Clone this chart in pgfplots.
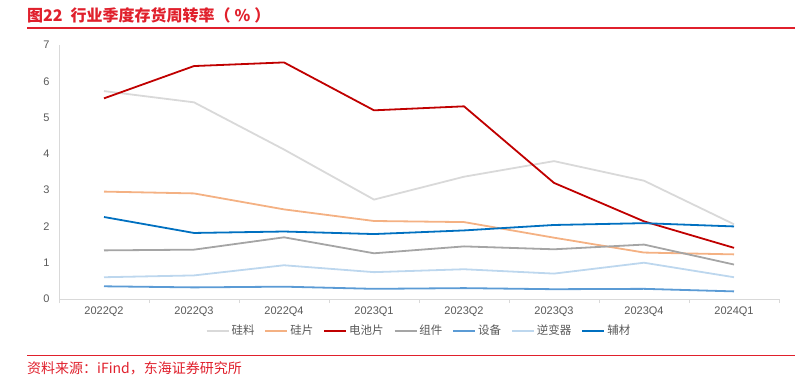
\documentclass[border=0pt]{standalone}
\usepackage{pgfplots}
\pgfplotsset{compat=1.18}
\usepackage{fontspec}
\setmainfont{Liberation Sans}
\newfontfamily\cjk{Noto Sans CJK SC}
\definecolor{titlered}{RGB}{224,32,44}
\definecolor{tickgray}{RGB}{89,89,89}
\definecolor{axgray}{RGB}{217,217,217}
\definecolor{cgl}{RGB}{217,217,217}
\definecolor{cgp}{RGB}{244,177,131}
\definecolor{cdc}{RGB}{192,0,0}
\definecolor{czj}{RGB}{165,165,165}
\definecolor{csb}{RGB}{91,155,213}
\definecolor{cnb}{RGB}{189,215,238}
\definecolor{cfc}{RGB}{0,112,192}
\pgfplotstableread{
x gl gp dc zj sb nb fc
0 5.73 2.96 5.53 1.34 0.35 0.60 2.26
1 5.42 2.91 6.42 1.36 0.32 0.65 1.82
2 4.12 2.47 6.52 1.70 0.34 0.93 1.86
3 2.74 2.15 5.20 1.26 0.28 0.74 1.79
4 3.37 2.12 5.31 1.45 0.30 0.82 1.89
5 3.80 1.69 3.20 1.37 0.27 0.70 2.04
6 3.26 1.28 2.14 1.50 0.28 1.00 2.09
7 2.06 1.23 1.41 0.95 0.21 0.60 2.00
}\datatable
\begin{document}
\begin{tikzpicture}
\path[use as bounding box] (0,0) rectangle (799bp,-384bp);
\node[anchor=base west, text=titlered, font=\cjk\bfseries\fontsize{16bp}{18bp}\selectfont, inner sep=0pt] at (27bp,-21bp) {图22\hspace{8bp}行业季度存货周转率（\hspace{4bp}\%\hspace{4bp}）};
\draw[titlered, line width=1.2bp] (27bp,-28bp) -- (795bp,-28bp);
\draw[titlered, line width=1bp] (27bp,-355bp) -- (795bp,-355bp);
\node[anchor=base west, text=titlered, font=\cjk\fontsize{14bp}{15bp}\selectfont, inner sep=0pt] at (27bp,-373bp) {资料来源：iFind，东海证券研究所};
\begin{axis}[
  at={(59bp,-299bp)}, anchor=south west,
  scale only axis, width=720bp, height=254bp,
  xmin=-0.5, xmax=7.5, ymin=0, ymax=7,
  axis x line*=bottom, axis y line*=left,
  axis line style={axgray, line width=0.8bp},
  xtick={0,...,7},
  xticklabels={2022Q2,2022Q3,2022Q4,2023Q1,2023Q2,2023Q3,2023Q4,2024Q1},
  minor xtick={-0.5,0.5,...,7.5},
  major tick length=0pt,
  minor tick length=4bp,
  tick align=outside,
  minor tick style={axgray, line width=0.8bp},
  ytick={0,...,7},
  tick label style={text=tickgray, font=\fontsize{11bp}{12bp}\selectfont},
  xticklabel style={yshift=-4bp},
  yticklabel style={xshift=-6bp},
  /pgf/number format/assume math mode=true,
  legend columns=7,
  legend style={at={(0.5,-0.125)}, anchor=center, draw=none, fill=none,
    font=\cjk\fontsize{11.5bp}{13bp}\selectfont, text=tickgray,
    /tikz/every even column/.append style={column sep=8bp}},
  legend image code/.code={\draw[#1, line width=1.8bp] (0bp,0bp) -- (22bp,0bp);},
  every axis plot/.append style={line width=1.8bp, mark=none},
]
\addplot[cgl] table[x=x, y=gl] {\datatable}; \addlegendentry{硅料}
\addplot[cgp] table[x=x, y=gp] {\datatable}; \addlegendentry{硅片}
\addplot[cdc] table[x=x, y=dc] {\datatable}; \addlegendentry{电池片}
\addplot[czj] table[x=x, y=zj] {\datatable}; \addlegendentry{组件}
\addplot[csb] table[x=x, y=sb] {\datatable}; \addlegendentry{设备}
\addplot[cnb] table[x=x, y=nb] {\datatable}; \addlegendentry{逆变器}
\addplot[cfc] table[x=x, y=fc] {\datatable}; \addlegendentry{辅材}
\end{axis}
\end{tikzpicture}
\end{document}
